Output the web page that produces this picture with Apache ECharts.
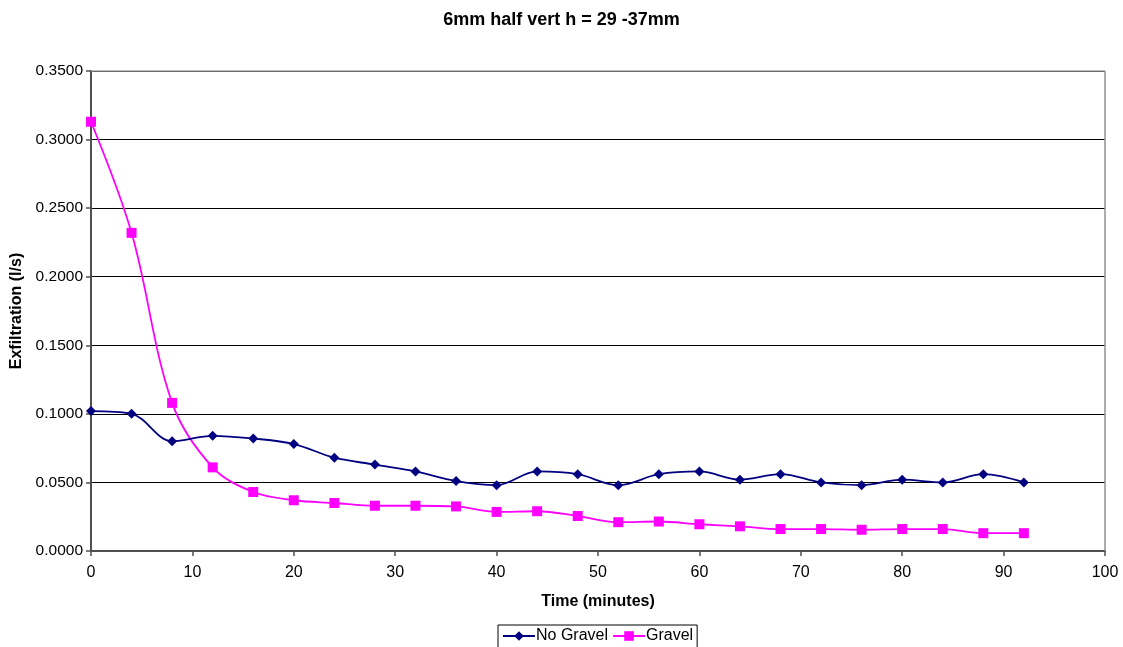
<!DOCTYPE html>
<html>
<head>
<meta charset="utf-8">
<script src="https://cdn.jsdelivr.net/npm/echarts@6/dist/echarts.min.js"></script>
<style>
  html, body { margin: 0; padding: 0; background: #fff; }
  #chart { width: 1123px; height: 647px; }
</style>
</head>
<body>
<div id="chart"></div>
<script>
// Sampling times (minutes)
const times = [0, 4, 8, 12, 16, 20, 24, 28, 32, 36, 40, 44, 48, 52, 56, 60, 64, 68, 72, 76, 80, 84, 88, 92];
// Exfiltration rate (l/s) without gravel
const noGravel = [0.102, 0.100, 0.080, 0.084, 0.082, 0.078, 0.068, 0.063, 0.058, 0.051, 0.048, 0.058,
                  0.056, 0.048, 0.056, 0.058, 0.052, 0.056, 0.050, 0.048, 0.052, 0.050, 0.056, 0.050];
// Exfiltration rate (l/s) with gravel
const gravel = [0.313, 0.232, 0.108, 0.061, 0.043, 0.037, 0.035, 0.033, 0.033, 0.0325, 0.0285, 0.029,
                0.0255, 0.021, 0.0215, 0.0195, 0.018, 0.016, 0.016, 0.0155, 0.016, 0.016, 0.013, 0.013];

const seriesNames = ['No Gravel', 'Gravel'];
const chartTitle = '6mm half vert h = 29 -37mm';
const xName = 'Time (minutes)';
const yName = 'Exfiltration (l/s)';

const pairs = (xs, ys) => xs.map((x, i) => [x, ys[i]]);
const font = 'Liberation Sans, Arial, sans-serif';
const axisGrey = '#505050';

const chart = echarts.init(document.getElementById('chart'));
chart.setOption({
  animation: false,
  backgroundColor: '#ffffff',
  title: {
    text: chartTitle,
    left: 'center',
    top: 6,
    textStyle: { fontFamily: font, fontSize: 18, fontWeight: 'bold', color: '#000' }
  },
  grid: { left: 91, right: 18, top: 71, bottom: 96, containLabel: false, outerBoundsMode: 'none' },
  legend: {
    data: seriesNames,
    top: 625,
    left: 498,
    itemWidth: 32,
    itemHeight: 12,
    itemGap: 4,
    padding: [3, 4, 6, 4],
    borderColor: '#000',
    borderWidth: 1,
    textStyle: { fontFamily: font, fontSize: 16, color: '#000', padding: [0, 0, 0, -4] }
  },
  xAxis: {
    type: 'value',
    min: 0, max: 100, interval: 10,
    name: xName,
    nameLocation: 'middle',
    nameGap: 43,
    nameTextStyle: { fontFamily: font, fontSize: 16, fontWeight: 'bold', color: '#000' },
    axisLine: { show: true, lineStyle: { color: axisGrey, width: 2 } },
    axisTick: { show: true, inside: false, length: 5, lineStyle: { color: axisGrey, width: 1.5 } },
    axisLabel: { fontFamily: font, fontSize: 16, color: '#000', margin: 14 },
    splitLine: { show: false }
  },
  yAxis: {
    type: 'value',
    min: 0, max: 0.35, interval: 0.05,
    name: yName,
    nameLocation: 'middle',
    nameGap: 64,
    nameTextStyle: { fontFamily: font, fontSize: 16, fontWeight: 'bold', color: '#000' },
    axisLine: { show: true, lineStyle: { color: axisGrey, width: 2 } },
    axisTick: { show: true, inside: false, length: 5, lineStyle: { color: axisGrey, width: 1.5 } },
    axisLabel: { fontFamily: font, fontSize: 15.5, color: '#000', margin: 8,
                 formatter: v => v.toFixed(4) },
    splitLine: { show: true, lineStyle: { color: '#000', width: 1 } }
  },
  series: [
    {
      name: seriesNames[0],
      type: 'line',
      data: pairs(times, noGravel),
      smooth: 0.35,
      symbol: 'diamond',
      symbolSize: 10,
      color: '#000080',
      lineStyle: { width: 1.8, color: '#000080' },
      itemStyle: { color: '#000080' },
      z: 3
    },
    {
      name: seriesNames[1],
      type: 'line',
      data: pairs(times, gravel),
      smooth: 0.35,
      symbol: 'rect',
      symbolSize: 10,
      color: '#ff00ff',
      lineStyle: { width: 1.8, color: '#ff00ff' },
      itemStyle: { color: '#ff00ff' },
      z: 2
    },
    {
      // plot frame on the top and right edges
      type: 'line',
      data: [[0, 0.35], [100, 0.35], [100, 0]],
      symbol: 'none',
      silent: true,
      lineStyle: { color: '#909090', width: 1.5 },
      tooltip: { show: false },
      z: 1
    }
  ]
});
</script>
</body>
</html>
